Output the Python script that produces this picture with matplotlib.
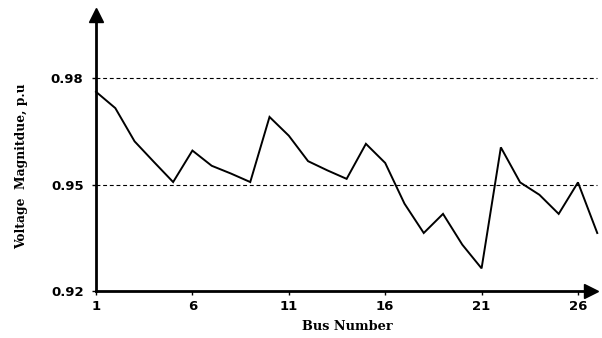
import numpy as np
import matplotlib.pyplot as plt

# bus voltage profile
bus = np.arange(1, 28)
voltage = [0.9762, 0.9716, 0.9622, 0.9564, 0.9507, 0.9596, 0.9553, 0.9531, 0.9507,
           0.9691, 0.9638, 0.9566, 0.9540, 0.9516, 0.9615, 0.9561, 0.9446, 0.9363,
           0.9417, 0.9330, 0.9263, 0.9605, 0.9506, 0.9471, 0.9417, 0.9506, 0.9363]
xticks = [1, 6, 11, 16, 21, 26]
yticks = [0.92, 0.95, 0.98]

fig = plt.figure(figsize=(6.02, 3.38), dpi=100)
ax = fig.add_axes([0.1595, 0.140, 0.823, 0.8166])

# dashed reference lines
for v in [0.95, 0.98]:
    ax.plot([1, 27], [v, v], color='k', lw=0.8, ls=(0, (3.5, 2.5)), clip_on=False)

ax.plot(bus, voltage, color='k', lw=1.4, clip_on=False, solid_joinstyle='miter')

ax.set_xlim(1, 26.7)
ax.set_ylim(0.92, 0.998)
ax.set_xticks(xticks)
ax.set_yticks(yticks)
ax.set_yticklabels(['%.2f' % t for t in yticks])

ax.spines['top'].set_visible(False)
ax.spines['right'].set_visible(False)
ax.spines['left'].set_linewidth(2)
ax.spines['bottom'].set_linewidth(2)
ax.tick_params(direction='out', length=3, width=1)
ax.tick_params(axis='y', pad=6)
ax.tick_params(axis='x', pad=4)
for lab in ax.get_xticklabels() + ax.get_yticklabels():
    lab.set_fontweight('bold')
    lab.set_fontsize(9.5)
    lab.set_family('DejaVu Sans')

# arrow heads on the axes
ax.plot(1, 0, '>k', ms=10, transform=ax.transAxes, clip_on=False)
ax.plot(0, 1, '^k', ms=10, transform=ax.transAxes, clip_on=False)

fig.text(347 / 602, 1 - 326 / 338, 'Bus Number', ha='center', va='center',
         family='DejaVu Serif', fontweight='bold', fontsize=9.3)
fig.text(22 / 602, 1 - 166.5 / 338, 'Voltage  Magnitdue, p.u', ha='center', va='center',
         rotation=90, family='DejaVu Serif', fontweight='bold', fontsize=8.8)

fig.savefig('out.png', dpi=100)
